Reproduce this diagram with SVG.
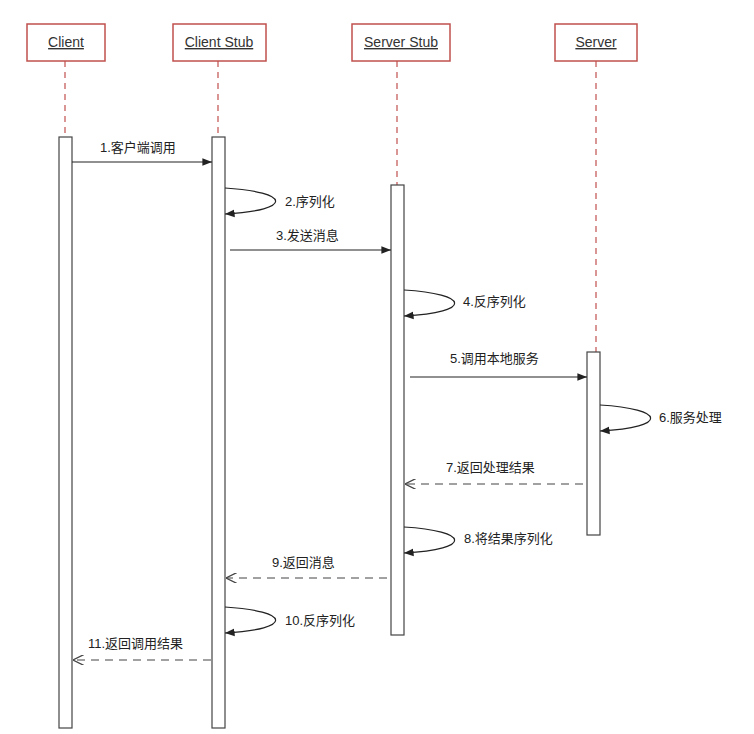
<svg xmlns="http://www.w3.org/2000/svg" width="754" height="734" viewBox="0 0 754 734">
<style>
.box{fill:#fff;stroke:#c0504d;stroke-width:1.5}
.name{font-family:"Liberation Sans","Noto Sans CJK SC",sans-serif;font-size:14px;fill:#333;text-anchor:middle;text-decoration:underline}
.life{stroke:#c0504d;stroke-width:1.2;stroke-dasharray:6,5}
.act{fill:#fff;stroke:#444;stroke-width:1.2}
.msg{stroke:#222;stroke-width:1.2;fill:none}
.dash{stroke:#444;stroke-width:1.2;fill:none;stroke-dasharray:8,6}
.lbl{font-family:"Liberation Sans","Noto Sans CJK SC",sans-serif;font-size:13px;fill:#222}
</style>
<defs>
<marker id="f" viewBox="0 0 10 10" refX="10" refY="5" markerWidth="8" markerHeight="8" orient="auto"><path d="M0,1L10,5L0,9z" fill="#222"/></marker>
<marker id="o" viewBox="0 0 10 10" refX="10" refY="5" markerWidth="9" markerHeight="9" orient="auto"><path d="M0,0L10,5L0,10" fill="none" stroke="#444" stroke-width="1.2"/></marker>
</defs>
<rect width="754" height="734" fill="#fff"/>
<g id="client"><rect class="box" x="27" y="24" width="78" height="37"/><text class="name" x="66" y="47">Client</text><line class="life" x1="65" y1="61" x2="65" y2="137"/><rect class="act" x="59" y="137" width="13" height="591"/></g>
<g id="clientstub"><rect class="box" x="173" y="24" width="93" height="37"/><text class="name" x="219" y="47">Client Stub</text><line class="life" x1="218" y1="61" x2="218" y2="137"/><rect class="act" x="212" y="137" width="13" height="591"/></g>
<g id="serverstub"><rect class="box" x="352" y="24" width="98" height="37"/><text class="name" x="401" y="47">Server Stub</text><line class="life" x1="397" y1="61" x2="397" y2="185"/><rect class="act" x="391" y="185" width="13" height="450"/></g>
<g id="server"><rect class="box" x="555" y="24" width="82" height="37"/><text class="name" x="596" y="47">Server</text><line class="life" x1="596" y1="61" x2="596" y2="352"/><rect class="act" x="587" y="352" width="13" height="183"/></g>
<g id="connectors">
<line class="msg" x1="72" y1="162" x2="212" y2="162" marker-end="url(#f)"/>
<path class="msg" d="M225,188 C290,192 295,210 225,214" marker-end="url(#f)"/>
<line class="msg" x1="230" y1="250" x2="391" y2="250" marker-end="url(#f)"/>
<path class="msg" d="M404,290 C469,294 474,312 404,316" marker-end="url(#f)"/>
<line class="msg" x1="410" y1="377" x2="587" y2="377" marker-end="url(#f)"/>
<path class="msg" d="M600,405 C665,409 670,427 600,431" marker-end="url(#f)"/>
<line class="dash" x1="583" y1="484" x2="405" y2="484" marker-end="url(#o)"/>
<path class="msg" d="M404,527 C469,531 474,549 404,553" marker-end="url(#f)"/>
<line class="dash" x1="387" y1="578" x2="226" y2="578" marker-end="url(#o)"/>
<path class="msg" d="M225,607 C290,611 295,629 225,633" marker-end="url(#f)"/>
<line class="dash" x1="211" y1="660" x2="73" y2="660" marker-end="url(#o)"/>
</g>
<g id="labels">
<text class="lbl" x="100" y="152">1.客户端调用</text>
<text class="lbl" x="285" y="206">2.序列化</text>
<text class="lbl" x="276" y="240">3.发送消息</text>
<text class="lbl" x="463" y="306">4.反序列化</text>
<text class="lbl" x="450" y="363">5.调用本地服务</text>
<text class="lbl" x="659" y="422">6.服务处理</text>
<text class="lbl" x="446" y="472">7.返回处理结果</text>
<text class="lbl" x="464" y="543">8.将结果序列化</text>
<text class="lbl" x="272" y="567">9.返回消息</text>
<text class="lbl" x="285" y="625">10.反序列化</text>
<text class="lbl" x="88" y="648">11.返回调用结果</text>
</g>
</svg>
